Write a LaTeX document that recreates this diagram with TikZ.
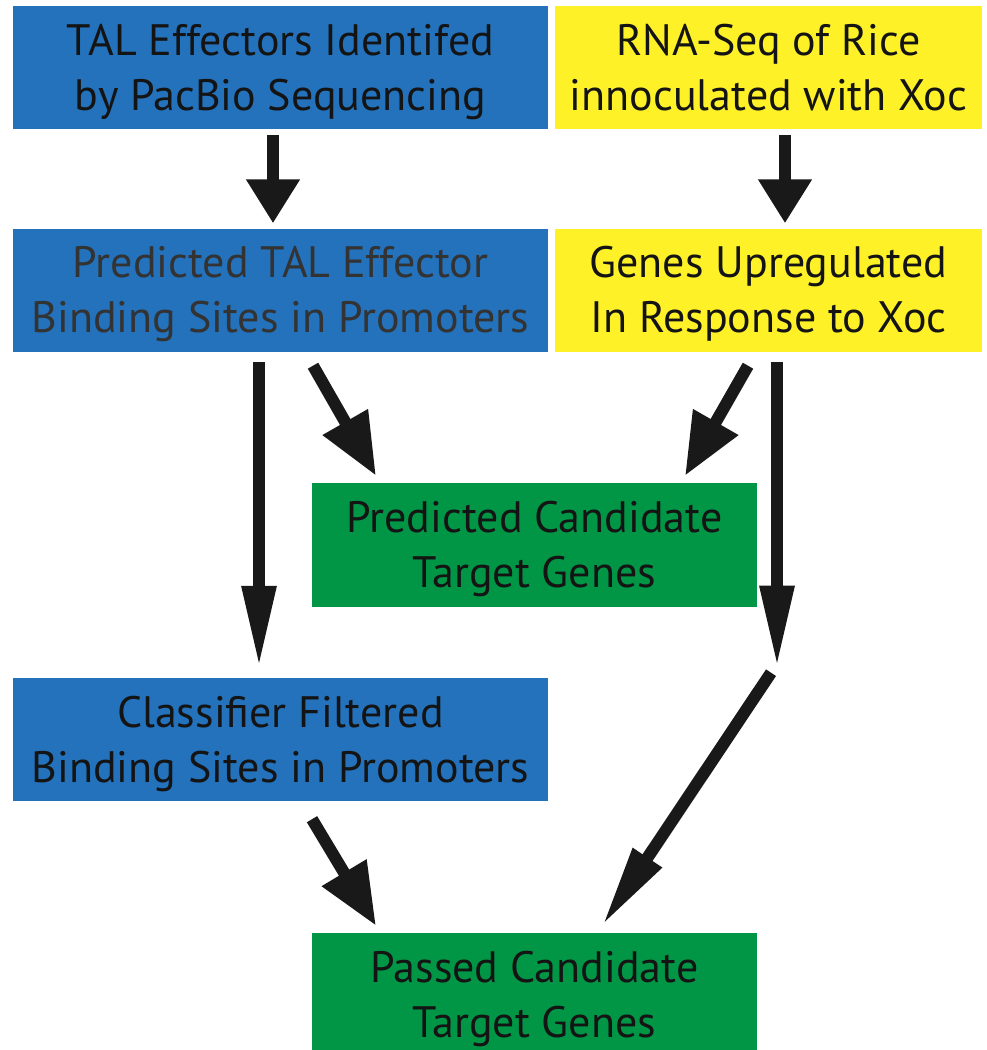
\documentclass[tikz,border=0pt]{standalone}
\usepackage{fontspec}
\setmainfont{PT Sans}
\usetikzlibrary{arrows.meta,calc}
\definecolor{boxblue}{RGB}{35,114,187}
\definecolor{boxyellow}{RGB}{255,241,40}
\definecolor{boxgreen}{RGB}{0,150,70}
\newcommand{\boxtext}[2]{\raisebox{-4pt}[\height][\depth]{\begin{tabular}{@{}c@{}}#1\\#2\end{tabular}}}
\begin{document}
\begin{tikzpicture}[x=1pt,y=-1pt,
  box/.style={rectangle, inner sep=0pt, align=center,
    font=\fontsize{44}{55}\selectfont, text=black!92},
  bluebox/.style={box, fill=boxblue, minimum width=535pt, minimum height=123pt},
  yellowbox/.style={box, fill=boxyellow, minimum width=427pt, minimum height=123pt},
  greenbox/.style={box, fill=boxgreen, minimum width=445pt, minimum height=124pt},
  arr/.style={draw=black!90, line width=12pt, line cap=butt},
  widehead/.style={-{Triangle[length=44pt,width=51pt]}},
  midhead/.style={-{Triangle[length=62pt,width=49pt]}},
  narrowhead/.style={-{Triangle[length=82pt,width=32pt]}}]
\useasboundingbox (0,0) rectangle (986,1050);
\clip (0,0) rectangle (986,1050);

\node[bluebox] (b1) at (280.5,67.5) {\boxtext{TAL Effectors Identifed}{by PacBio Sequencing}};
\node[yellowbox] (b2) at (768.5,67.5) {\boxtext{RNA-Seq of Rice}{innoculated with Xoc}};
\node[bluebox, text=black!80] (b3) at (280.5,290) {\boxtext{Predicted TAL Effector}{Binding Sites in Promoters}};
\node[yellowbox] (b4) at (768.5,290) {\boxtext{Genes Upregulated}{In Response to Xoc}};
\node[greenbox] (b5) at (534.5,545) {\boxtext{Predicted Candidate}{Target Genes}};
\node[bluebox] (b6) at (280.5,739.5) {\boxtext{Classifier Filtered}{Binding Sites in Promoters}};
\node[greenbox] (b7) at (534.5,995) {\boxtext{Passed Candidate}{Target Genes}};

\coordinate (j1) at ($(b4.south)+(8.5,316)$);
\coordinate (j2) at ($(b4.south)+(2.5,321)$);

\draw[arr, widehead] ($(b1.south)+(-7.5,6)$) -- ($(b3.north)+(-7.5,-5)$);
\draw[arr, widehead] ($(b2.south)+(16.5,6)$) -- ($(b4.north)+(16.5,-5)$);
\draw[arr, narrowhead] ($(b3.south)+(-21.5,10)$) -- ($(b6.north)+(-21.5,-10)$);
\draw[arr, midhead] ($(b3.south)+(32.5,14)$) -- ($(b5.north)+(-158.5,-7)$);
\draw[arr, midhead] ($(b4.south)+(-20.5,14)$) -- ($(b5.north)+(150.5,-7)$);
\draw[arr, narrowhead] ($(b4.south)+(8.5,10)$) -- (j1);
\draw[arr, narrowhead] (j2) -- ($(b7.north)+(67.5,-7)$);
\draw[arr, midhead] ($(b6.south)+(31.5,18)$) -- ($(b7.north)+(-158.5,-7)$);
\end{tikzpicture}
\end{document}
